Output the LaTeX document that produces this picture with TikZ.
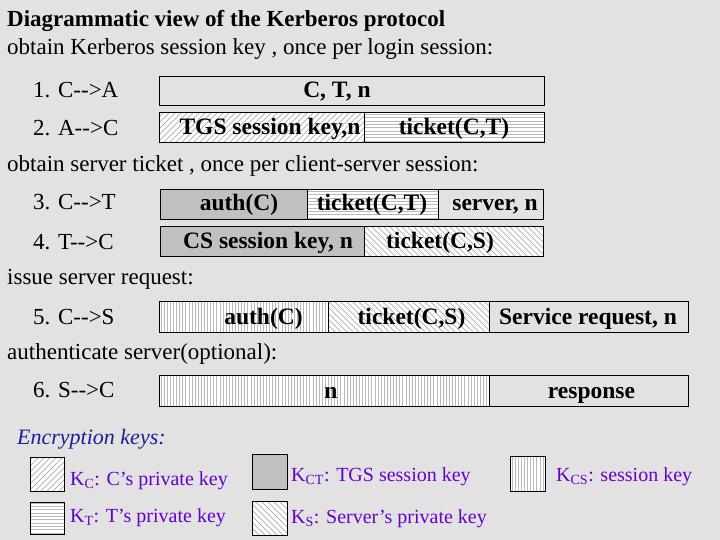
\documentclass[tikz,border=0pt]{standalone}
\usepackage{fontspec}
\setmainfont{Liberation Serif}
\usetikzlibrary{calc}
\definecolor{bgc}{RGB}{226,226,226}
\definecolor{hatchc}{RGB}{185,185,185}
\definecolor{cellgray}{RGB}{192,192,192}
\definecolor{legpurple}{RGB}{102,0,204}
\definecolor{legblue}{RGB}{30,30,150}
\begin{document}
\begin{tikzpicture}[x=1pt,y=-1pt,
  cellbox/.style={draw=black, line width=1pt, inner sep=0pt, anchor=north west},
  grayfill/.style={fill=cellgray},
  hatchline/.style={draw=hatchc, line width=0.75pt},
  hatchNE/.style={fill=white, path picture={
     \coordinate (sw) at (path picture bounding box.south west);
     \foreach \hh in {-44,-38,...,214} \draw[hatchline] ($(sw)+(\hh,0)$) -- ++(45,-45);}},
  hatchNW/.style={fill=white, path picture={
     \coordinate (sw) at (path picture bounding box.south west);
     \foreach \hh in {-44,-38,...,214} \draw[hatchline] ($(sw)+(\hh,-45)$) -- ++(45,45);}},
  hatchH/.style={fill=white, path picture={
     \coordinate (sw) at (path picture bounding box.south west);
     \foreach \hh in {1.6,4.9,...,36} \draw[hatchline,line width=0.65pt] ($(sw)+(0,-\hh)$) -- ++(340,0);}},
  hatchV/.style={fill=white, path picture={
     \coordinate (sw) at (path picture bounding box.south west);
     \foreach \hh in {1.5,4.6,...,335} \draw[hatchline,line width=0.65pt] ($(sw)+(\hh,0)$) -- ++(0,-36);}},
  txt/.style={font=\fontsize{23}{27}\selectfont, inner sep=0pt, anchor=base west},
  btxt/.style={font=\fontsize{23.5}{27}\selectfont\bfseries, inner sep=0pt, anchor=base},
  ltxt/.style={font=\fontsize{20}{23}\selectfont, text=legpurple, inner sep=0pt, anchor=base west},
]
\fill[bgc] (0,0) rectangle (720,540);
\useasboundingbox (0,0) rectangle (720,540);

% headings and labels
\node[txt,font=\fontsize{23}{27}\selectfont\bfseries] (title) at (7,27) {Diagrammatic view of the Kerberos protocol};
\node[txt] (h1) at (7,55) {obtain Kerberos session key , once per login session:};
\node[txt] (l1) at (33,98) {1. C-{}->A};
\node[txt] (l2) at (33,136) {2. A-{}->C};
\node[txt] (h2) at (7,172) {obtain server ticket , once per client-server session:};
\node[txt] (l3) at (33,210) {3. C-{}->T};
\node[txt] (l4) at (33,249) {4. T-{}->C};
\node[txt] (h3) at (7,284) {issue server request:};
\node[txt] (l5) at (33,324) {5. C-{}->S};
\node[txt] (h4) at (7,359) {authenticate server(optional):};
\node[txt] (l6) at (33,397) {6. S-{}->C};

% row 1
\node[cellbox,minimum width=385pt,minimum height=29pt] (r1) at (159,76) {};
\node[btxt] (t1) at (337,98) {C, T, n};
% row 2
\node[cellbox,hatchNE,minimum width=205pt,minimum height=30pt] (r2a) at (159,112) {};
\node[cellbox,hatchH,minimum width=180pt,minimum height=30pt] (r2b) at (364,112) {};
\node[btxt] (t2a) at (270,135) {TGS session key,n};
\node[btxt] (t2b) at (454,135) {ticket(C,T)};
% row 3
\node[cellbox,grayfill,minimum width=147pt,minimum height=30pt] (r3a) at (160,189) {};
\node[cellbox,hatchH,minimum width=131pt,minimum height=30pt] (r3b) at (307,189) {};
\node[cellbox,minimum width=105pt,minimum height=30pt] (r3c) at (438,189) {};
\node[btxt] (t3a) at (239,211) {auth(C)};
\node[btxt] (t3b) at (372,211) {ticket(C,T)};
\node[btxt] (t3c) at (495,211) {server, n};
% row 4
\node[cellbox,grayfill,minimum width=204pt,minimum height=30pt] (r4a) at (160,226) {};
\node[cellbox,hatchNW,minimum width=179pt,minimum height=30pt] (r4b) at (364,226) {};
\node[btxt] (t4a) at (268,248) {CS session key, n};
\node[btxt] (t4b) at (440,248) {ticket(C,S)};
% row 5
\node[cellbox,hatchV,minimum width=169pt,minimum height=31pt] (r5a) at (159,301) {};
\node[cellbox,hatchNW,minimum width=161pt,minimum height=31pt] (r5b) at (328,301) {};
\node[cellbox,minimum width=199pt,minimum height=31pt] (r5c) at (489,301) {};
\node[btxt] (t5a) at (263.5,324) {auth(C)};
\node[btxt] (t5b) at (411.5,324) {ticket(C,S)};
\node[btxt] (t5c) at (588,324) {Service request, n};
% row 6
\node[cellbox,hatchV,minimum width=330pt,minimum height=31pt] (r6a) at (159,375) {};
\node[cellbox,minimum width=199pt,minimum height=31pt] (r6b) at (489,375) {};
\node[btxt] (t6a) at (331,398) {n};
\node[btxt] (t6b) at (591.5,398) {response};

% legend
\node[txt,font=\fontsize{22}{26}\selectfont\itshape,text=legblue] (enc) at (17,444) {Encryption keys:};
\node[cellbox,hatchNE,minimum width=34pt,minimum height=34pt] (s1) at (30,457) {};
\node[cellbox,grayfill,minimum width=35pt,minimum height=35pt] (s2) at (252,454) {};
\node[cellbox,hatchV,minimum width=35pt,minimum height=35pt] (s3) at (510,456) {};
\node[cellbox,hatchH,minimum width=34pt,minimum height=32pt] (s4) at (30,502) {};
\node[cellbox,hatchNW,minimum width=35pt,minimum height=34pt] (s5) at (252,501) {};
\node[ltxt] (k1) at (70,485) {K\textsubscript{C}: C’s private key};
\node[ltxt] (k2) at (291,481) {K\textsubscript{CT}: TGS session key};
\node[ltxt] (k3) at (556,481) {K\textsubscript{CS}: session key};
\node[ltxt] (k4) at (70,522) {K\textsubscript{T}: T’s private key};
\node[ltxt] (k5) at (291,523) {K\textsubscript{S}: Server’s private key};
\end{tikzpicture}
\end{document}
